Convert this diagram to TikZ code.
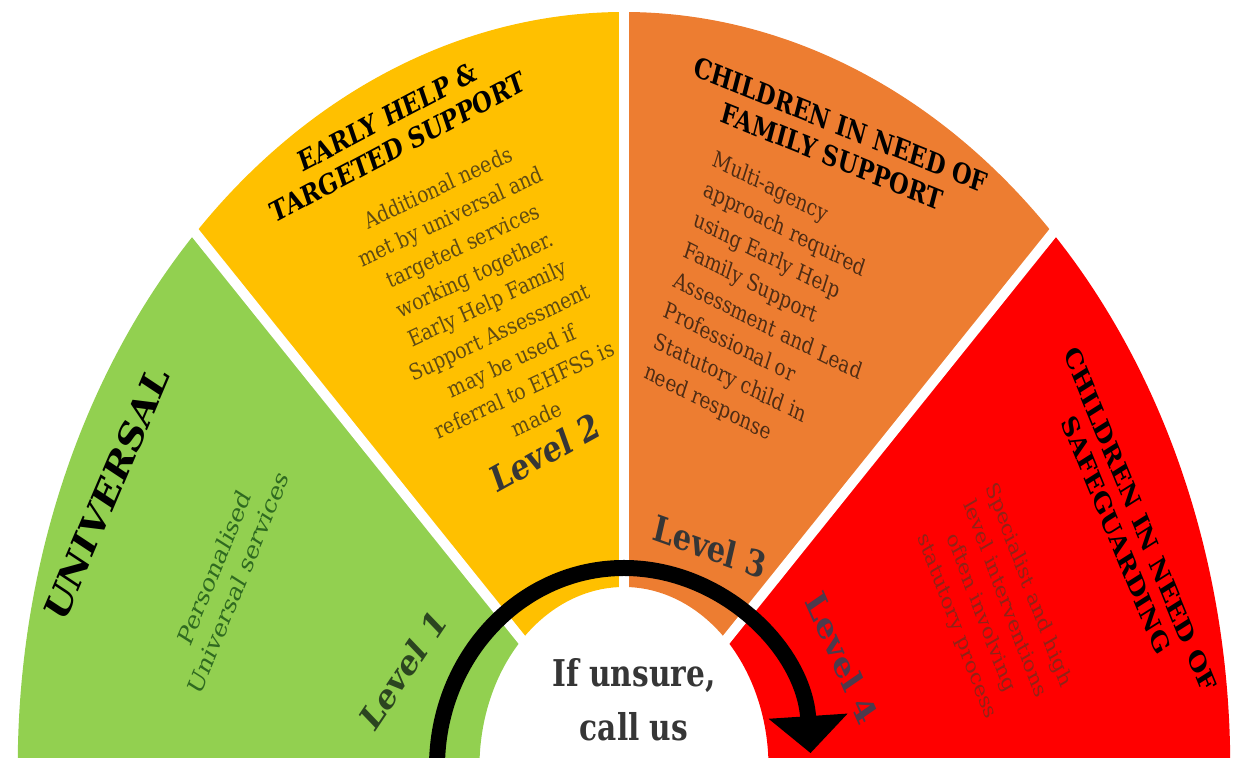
\documentclass[tikz,border=0pt]{standalone}
\usepackage{fontspec}
\setmainfont{DejaVu Serif}
\usetikzlibrary{arrows.meta}

\definecolor{levelgreen}{HTML}{92D050}
\definecolor{levelyellow}{HTML}{FFC000}
\definecolor{levelorange}{HTML}{ED7D31}
\definecolor{levelred}{HTML}{FF0000}
\definecolor{greentext}{HTML}{2F6A20}
\definecolor{yellowtext}{HTML}{5E4A14}
\definecolor{orangetext}{HTML}{4E2C14}
\definecolor{redtext}{HTML}{8E2418}
\definecolor{labelgrey}{HTML}{363636}
\definecolor{labelgreen}{HTML}{2B4520}
\definecolor{labelpurple}{HTML}{4E3A4C}

\tikzset{
  heading/.style={font=\bfseries\fontsize{16}{19}\selectfont, align=center, text=black},
  bodytext/.style={font=\fontsize{13}{18.6}\selectfont, align=center},
  levellabel/.style={font=\bfseries\fontsize{20.5}{24}\selectfont, text=labelgrey},
}

\begin{document}
\begin{tikzpicture}
    \useasboundingbox (-12.48,0.18) rectangle (12.36,15.34);
    \clip (-12.48,0.18) rectangle (12.36,15.34);
    \begin{scope}[xscale=0.803, transform shape]
        % ring sectors
        \foreach \a/\b/\c in {0/45/levelred, 45/90/levelorange, 90/135/levelyellow, 135/180/levelgreen} {
            \fill[\c] (\a:15.1) arc[start angle=\a, end angle=\b, radius=15.1]
                -- (\b:3.6) arc[start angle=\b, end angle=\a, radius=3.6] -- cycle;
        }
        \foreach \a in {45, 90, 135} {
            \draw[white, line width=0.2cm] (\a:3) -- (\a:15.6);
        }
        % level 1
        \node[font=\bfseries\fontsize{23.5}{28}\selectfont, rotate=62] (universal) at (157:14.0) {UNIVERSAL};
        \node[bodytext, font=\fontsize{15}{19}\selectfont, text=greentext, rotate=63] (universalbody) at (158.8:10.63)
            {Personalised\\Universal services};
        \node[levellabel, text=labelgreen, rotate=50] (level1) at (160.6:5.84) {Level 1};
        % level 2
        \node[heading, rotate=23] (earlyhelp) at (114.4:13.95) {EARLY HELP \&\\TARGETED SUPPORT};
        \begin{scope}[shift={(-3.41,9.28)}, cm={0.934,0.358,-0.47,0.883,(0,0)}]
            \node[bodytext, text=yellowtext] (earlyhelpbody) at (0,0)
                {Additional needs\\met by universal and\\targeted services\\working together.\\Early Help Family\\Support Assessment\\may be used if\\referral to EHFSS is\\made};
        \end{scope}
        \node[levellabel, rotate=24] (level2) at (107.4:6.6) {Level 2};
        % level 3
        \node[heading, rotate=-18] (familysupport) at (67.1:13.6) {CHILDREN IN NEED OF\\FAMILY SUPPORT};
        \node[bodytext, align=left, text=orangetext, rotate=-22] (familysupportbody) at (3.7,9.09)
            {Multi-agency\\approach required\\using Early Help\\Family Support\\Assessment and Lead\\Professional or\\Statutory child in\\need response};
        \node[levellabel, rotate=-16] (level3) at (64:4.9) {Level 3};
        % level 4
        \node[heading, rotate=-63] (safeguarding) at (20.9:13.44) {CHILDREN IN NEED OF\\SAFEGUARDING};
        \node[bodytext, text=redtext, rotate=-65] (safeguardingbody) at (19.35:9.72)
            {Specialist and high\\level interventions\\often involving\\statutory process};
        \node[levellabel, text=labelpurple, rotate=-61] (level4) at (21.9:5.85) {Level 4};
        % centre
        \node[font=\bfseries\fontsize{21}{31}\selectfont, align=center, text=labelgrey] (unsure) at (0.25,1.34)
            {If unsure,\\call us};
    \end{scope}
    \coordinate (arrowstart) at (-3.74,0);
    \draw[line width=0.32cm, -{Triangle[width=1.54cm, length=0.74cm]}] (arrowstart)
        arc[start angle=180, end angle=4, x radius=3.74, y radius=3.98];
\end{tikzpicture}
\end{document}
